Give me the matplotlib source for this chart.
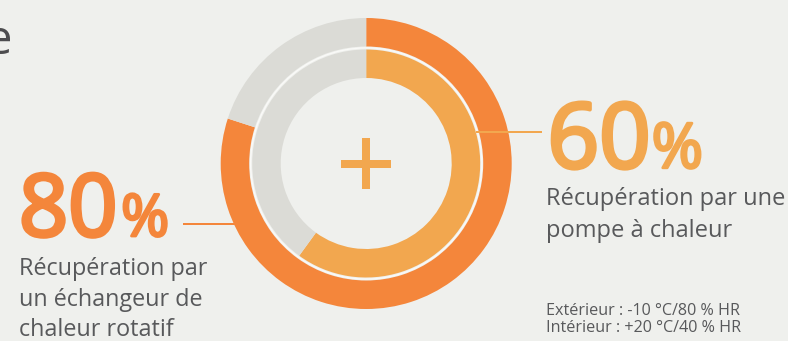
import matplotlib
matplotlib.use("Agg")
import matplotlib.pyplot as plt
import matplotlib.patheffects as pe
from matplotlib.patches import Circle

# Heat-recovery rates shown by the two rings
ring_labels = ["Échangeur rotatif", "Pompe à chaleur"]
ring_values = [80, 60]          # percent recovered
big_numbers = ["80", "60"]
captions = [
    ["Récupération par", "un échangeur de", "chaleur rotatif"],
    ["Récupération par une", "pompe à chaleur"],
]
conditions = ["Extérieur : -10 °C/80 % HR", "Intérieur : +20 °C/40 % HR"]

W, H = 788, 341
BG = "#eff0ed"
ORANGE = "#f4863b"
LIGHT = "#f2a74f"
GREY = "#dbdbd6"
TEXT = "#58595b"
FONT = ["Open Sans", "DejaVu Sans"]

fig = plt.figure(figsize=(W / 100, H / 100), dpi=100, facecolor=BG)
ax = fig.add_axes([0, 0, 1, 1])
ax.set_facecolor(BG)


def Y(y):
    """Convert a top-down pixel row into the axes' y coordinate."""
    return H - y


def heavy(color, w=1.6):
    """Thicken regular glyphs to a semibold look."""
    return [pe.withStroke(linewidth=w, foreground=color)]


cx, cy = 366.2, Y(163.5)
px = 72 / 100  # points per pixel

# Outer ring: rotary exchanger
ax.pie([ring_values[0], 100 - ring_values[0]], radius=145.5, center=(cx, cy),
       startangle=90, counterclock=False, colors=[ORANGE, GREY],
       wedgeprops=dict(width=28.5, linewidth=0))
# Inner ring: heat pump
ax.pie([ring_values[1], 100 - ring_values[1]], radius=114, center=(cx, cy),
       startangle=90, counterclock=False, colors=[LIGHT, GREY],
       wedgeprops=dict(width=28.5, linewidth=0))
# Thin separator between the rings
ax.add_patch(Circle((cx, cy), 115.6, fill=False, edgecolor="#fafaf8",
                    linewidth=1.3 * px, zorder=3))

# Plus sign in the centre
ax.plot([cx - 25, cx + 25], [cy, cy], color=LIGHT, lw=8 * px,
        solid_capstyle="butt", zorder=4)
ax.plot([cx, cx], [cy - 25.5, cy + 25.5], color=LIGHT, lw=8 * px,
        solid_capstyle="butt", zorder=4)

# Leader lines
ax.plot([183, 236], [Y(223.5), Y(223.5)], color=ORANGE, lw=2 * px,
        solid_capstyle="butt", zorder=1)
ax.plot([476, 542.5], [Y(131.7), Y(131.7)], color=LIGHT, lw=2 * px,
        solid_capstyle="butt", zorder=5)

# Left block
ax.text(19, Y(236), big_numbers[0], fontsize=62, color=ORANGE,
        family=FONT, ha="left", va="baseline", path_effects=heavy(ORANGE, 2.8))
ax.text(121, Y(236), "%", fontsize=42, color=ORANGE, family=FONT,
        ha="left", va="baseline", path_effects=heavy(ORANGE, 2.0))
for i, line in enumerate(captions[0]):
    ax.text(19.5, Y(275 + 30.5 * i), line, fontsize=16.8, color=TEXT,
            family=FONT, ha="left", va="baseline")

# Right block
ax.text(547.5, Y(167.8), big_numbers[1], fontsize=65, color=LIGHT,
        family=FONT, ha="left", va="baseline", path_effects=heavy(LIGHT, 2.8))
ax.text(651.5, Y(167.8), "%", fontsize=45, color=LIGHT, family=FONT,
        ha="left", va="baseline", path_effects=heavy(LIGHT, 2.0))
for i, line in enumerate(captions[1]):
    ax.text(546.5, Y(205 + 31.7 * i), line, fontsize=17, color=TEXT,
            family=FONT, ha="left", va="baseline")

# Test conditions
for i, line in enumerate(conditions):
    ax.text(546, Y(315 + 16.5 * i), line, fontsize=11.6, color=TEXT,
            family=FONT, ha="left", va="baseline")

# Tail of the heading running in from the left edge
ax.text(11.5, Y(53.5), "e", fontsize=34, color="#4d4d4f", family=FONT,
        ha="right", va="baseline")

ax.set_xlim(0, W)
ax.set_ylim(0, H)
ax.set_aspect("equal", adjustable="datalim")
ax.axis("off")

fig.savefig("out.png", dpi=100, facecolor=BG)
